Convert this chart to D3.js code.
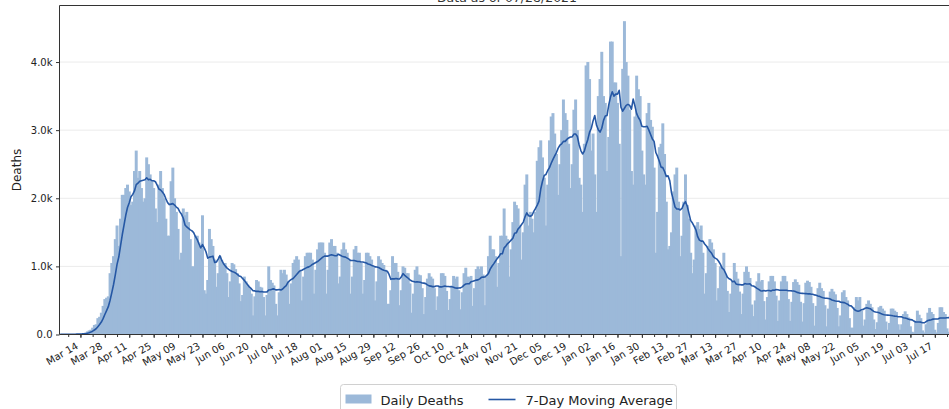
<!DOCTYPE html>
<html lang="en">
<head>
<meta charset="UTF-8">
<title>Daily Deaths</title>
<script src="https://cdn.jsdelivr.net/npm/d3@7"></script>
<style>
  body { margin: 0; background: #fff; font-family: "DejaVu Sans", sans-serif; }
  svg { display: block; }
</style>
</head>
<body>
<div id="chart"></div>
<script>
// one row per week, Mon..Sun, first day = startDate
var startDate = "2020-03-02";
var dailyDeaths = [
  [1, 2, 1, 1, 2, 3, 4],
  [4, 8, 7, 10, 9, 10, 12],
  [22, 28, 45, 60, 70, 100, 140],
  [150, 240, 260, 320, 420, 520, 540],
  [560, 900, 1050, 1150, 1400, 1600, 1300],
  [1700, 2050, 2050, 2150, 2200, 2100, 1900],
  [1950, 2400, 2700, 2300, 2400, 2150, 1950],
  [2000, 2600, 2500, 2350, 2250, 2150, 1850],
  [1650, 2200, 2400, 2150, 2000, 1700, 1450],
  [1450, 2250, 2450, 2000, 1800, 1550, 1100],
  [1200, 1850, 1750, 1800, 1650, 1400, 1000],
  [1000, 1450, 1450, 1350, 1250, 1750, 650],
  [600, 800, 1550, 1400, 1300, 1100, 700],
  [900, 1150, 1100, 1050, 1050, 900, 550],
  [780, 1050, 1030, 960, 900, 750, 490],
  [580, 850, 780, 730, 680, 600, 280],
  [560, 800, 780, 700, 690, 550, 280],
  [580, 1000, 800, 760, 720, 450, 280],
  [620, 950, 900, 950, 880, 780, 450],
  [750, 1050, 1100, 1150, 1100, 950, 500],
  [850, 1150, 1200, 1200, 1200, 1100, 600],
  [950, 1250, 1350, 1350, 1350, 1200, 600],
  [950, 1350, 1400, 1300, 1300, 1200, 750],
  [850, 1250, 1350, 1250, 1200, 1100, 600],
  [850, 1250, 1300, 1200, 1200, 1050, 600],
  [800, 1200, 1200, 1150, 1100, 1000, 500],
  [780, 1150, 1100, 1050, 1020, 950, 450],
  [450, 650, 1150, 1050, 1050, 920, 430],
  [650, 1000, 980, 900, 900, 750, 320],
  [600, 950, 1000, 880, 870, 680, 300],
  [550, 820, 900, 850, 820, 680, 360],
  [560, 720, 900, 900, 860, 640, 360],
  [520, 720, 860, 820, 850, 650, 370],
  [620, 900, 980, 850, 840, 860, 420],
  [680, 960, 1000, 960, 1000, 880, 430],
  [850, 1150, 1450, 1250, 1250, 1150, 700],
  [1050, 1450, 1450, 1850, 1450, 1400, 850],
  [1250, 1650, 1950, 1900, 1850, 1600, 1100],
  [1500, 2200, 2350, 1600, 1800, 1700, 1500],
  [1800, 2550, 2750, 2850, 2600, 2300, 1600],
  [2200, 2850, 3200, 3250, 2950, 2650, 2050],
  [2500, 3000, 3450, 3250, 3150, 2800, 2150],
  [2500, 3300, 3450, 3000, 2300, 2200, 1800],
  [2800, 3950, 4000, 3750, 2700, 2950, 2350],
  [1800, 3500, 3750, 4150, 3500, 3400, 2400],
  [2900, 4300, 4300, 3700, 3700, 3400, 2800],
  [1150, 3900, 4600, 4000, 3800, 3300, 2400],
  [2200, 3200, 3800, 3600, 3500, 2700, 2350],
  [2200, 3250, 3400, 3150, 3050, 2450, 1200],
  [1800, 2750, 2800, 3100, 2650, 1950, 1250],
  [1300, 1500, 2100, 2350, 2450, 1950, 1150],
  [1450, 1950, 2350, 1900, 1700, 1200, 900],
  [1100, 1600, 1650, 1550, 1600, 1200, 600],
  [900, 1300, 1400, 1350, 1250, 1050, 500],
  [680, 1000, 1000, 1200, 880, 640, 330],
  [600, 780, 1050, 920, 820, 630, 300],
  [600, 920, 1000, 920, 830, 440, 270],
  [500, 780, 900, 780, 800, 490, 220],
  [550, 780, 860, 860, 780, 570, 200],
  [500, 780, 860, 860, 780, 520, 200],
  [480, 770, 810, 770, 730, 480, 190],
  [460, 760, 790, 770, 700, 460, 130],
  [420, 680, 760, 680, 640, 430, 120],
  [380, 630, 670, 630, 590, 390, 120],
  [280, 620, 650, 550, 500, 240, 100],
  [100, 400, 550, 500, 550, 350, 130],
  [220, 450, 500, 450, 400, 220, 80],
  [180, 400, 420, 380, 350, 190, 70],
  [170, 380, 380, 350, 330, 150, 70],
  [150, 300, 340, 300, 250, 120, 40],
  [30, 200, 350, 290, 240, 60, 30],
  [150, 320, 390, 330, 300, 70, 30],
  [170, 400, 400, 330, 300, 90, 40],
  [220]
];
var yTicks = [0, 1000, 2000, 3000, 4000];
var yTickLabels = ["0.0", "1.0k", "2.0k", "3.0k", "4.0k"];
var xDomain = ["2020-03-02", "2021-07-28"];
var xLabelStart = "2020-03-14";   // labelled every 14 days, minor tick every 7
var xLabelEnd = "2021-07-30";
var yMax = 4830;
var seriesNames = ["Daily Deaths", "7-Day Moving Average"];
var titleText = "Data as of 07/28/2021";
var yLabel = "Deaths";

var W = 949, H = 409;
var m = {top: 5.5, left: 59.5, bottom: 74.5, right: -5};
var innerW = W - m.left - m.right;
var innerH = H - m.top - m.bottom;

var parse = d3.utcParse("%Y-%m-%d");
var start = parse(startDate);
var values = dailyDeaths.flat();
var data = values.map(function(v, i){
  return {date: d3.utcDay.offset(start, i), value: v};
});
// trailing 7 day mean
data.forEach(function(d, i){
  d.avg = d3.mean(values.slice(Math.max(0, i - 6), i + 1));
});

var x = d3.scaleUtc().domain(xDomain.map(parse)).range([0, innerW]);
var y = d3.scaleLinear().domain([0, yMax]).range([innerH, 0]);
var dayW = x(d3.utcDay.offset(start, 1)) - x(start);
var barW = dayW * 1.7;   // bars overlap, short days show as thin light lines

var svg = d3.select("#chart").append("svg")
  .attr("width", W).attr("height", H)
  .style("font-family", "'DejaVu Sans', sans-serif");

svg.append("text")
  .attr("x", 507).attr("y", 1.5)
  .attr("text-anchor", "middle")
  .attr("font-size", "12.5px")
  .attr("fill", "#333")
  .text(titleText);

var g = svg.append("g").attr("transform", "translate(" + m.left + "," + m.top + ")");

g.append("clipPath").attr("id", "clip")
  .append("rect").attr("width", innerW).attr("height", innerH);

// grid
g.append("g").selectAll("line")
  .data(yTicks.slice(1))
  .enter().append("line")
  .attr("x1", 0).attr("x2", innerW)
  .attr("y1", function(d){ return y(d); })
  .attr("y2", function(d){ return y(d); })
  .attr("stroke", "#ebebeb").attr("stroke-width", 1);

var plot = g.append("g").attr("clip-path", "url(#clip)");

plot.append("g").selectAll("rect")
  .data(data)
  .enter().append("rect")
  .attr("x", function(d){ return x(d.date) - barW / 2; })
  .attr("width", barW)
  .attr("y", function(d){ return y(d.value); })
  .attr("height", function(d){ return innerH - y(d.value); })
  .attr("fill", "#9cb9d9");

var line = d3.line()
  .x(function(d){ return x(d.date); })
  .y(function(d){ return y(d.avg); });

plot.append("path")
  .datum(data)
  .attr("d", line)
  .attr("fill", "none")
  .attr("stroke", "#2557a4")
  .attr("stroke-width", 1.6)
  .attr("stroke-linejoin", "round");

// y axis
var yAxis = g.append("g")
  .call(d3.axisLeft(y).tickValues(yTicks)
    .tickFormat(function(d, i){ return yTickLabels[i]; })
    .tickSize(3.5).tickPadding(3.5));
yAxis.select(".domain").remove();
yAxis.selectAll("text").attr("font-size", "10px").attr("fill", "#222").style("font-family", "'DejaVu Sans', sans-serif");
yAxis.selectAll("line").attr("stroke", "#333");

// x axis
var majors = d3.utcDay.range(parse(xLabelStart), parse(xLabelEnd), 14);
var minors = d3.utcDay.range(d3.utcDay.offset(parse(xLabelStart), -7), parse(xLabelEnd), 7)
  .filter(function(d){ return x(d) >= 0 && x(d) <= innerW; });

var xMinor = g.append("g")
  .attr("transform", "translate(0," + innerH + ")")
  .call(d3.axisBottom(x).tickValues(minors).tickFormat("").tickSize(2.5));
xMinor.select(".domain").remove();
xMinor.selectAll("line").attr("stroke", "#333");

var xAxis = g.append("g")
  .attr("transform", "translate(0," + innerH + ")")
  .call(d3.axisBottom(x).tickValues(majors)
    .tickFormat(d3.utcFormat("%b %d")).tickSize(3.5));
xAxis.select(".domain").remove();
xAxis.selectAll("line").attr("stroke", "#333");
xAxis.selectAll("text")
  .attr("x", 0).attr("y", 0).attr("dy", 0)
  .attr("text-anchor", "end")
  .attr("transform", "translate(-2,13.5) rotate(-30)")
  .attr("font-size", "10px").attr("fill", "#222")
  .style("font-family", "'DejaVu Sans', sans-serif");

// frame (left, top, bottom)
g.append("line").attr("x1", 0).attr("x2", 0).attr("y1", 0).attr("y2", innerH)
  .attr("stroke", "#333").attr("stroke-width", 1);
g.append("line").attr("x1", 0).attr("x2", innerW).attr("y1", 0).attr("y2", 0)
  .attr("stroke", "#333").attr("stroke-width", 1);
g.append("line").attr("x1", 0).attr("x2", innerW).attr("y1", innerH).attr("y2", innerH)
  .attr("stroke", "#333").attr("stroke-width", 1);

svg.append("text")
  .attr("transform", "translate(21," + (m.top + innerH / 2) + ") rotate(-90)")
  .attr("text-anchor", "middle")
  .attr("font-size", "12px")
  .attr("fill", "#222")
  .text(yLabel);

// legend
var lg = svg.append("g").attr("transform", "translate(340.5,384.5)");
lg.append("rect")
  .attr("width", 336).attr("height", 40).attr("rx", 3)
  .attr("fill", "#fff").attr("stroke", "#d0d0d0");
lg.append("rect")
  .attr("x", 5).attr("y", 10).attr("width", 26).attr("height", 9)
  .attr("fill", "#9cb9d9");
lg.append("text")
  .attr("x", 40).attr("y", 20)
  .attr("font-size", "13px").attr("fill", "#222")
  .text(seriesNames[0]);
lg.append("line")
  .attr("x1", 148).attr("x2", 175).attr("y1", 15).attr("y2", 15)
  .attr("stroke", "#2557a4").attr("stroke-width", 1.6);
lg.append("text")
  .attr("x", 185).attr("y", 20)
  .attr("font-size", "13px").attr("fill", "#222")
  .text(seriesNames[1]);
</script>
</body>
</html>
